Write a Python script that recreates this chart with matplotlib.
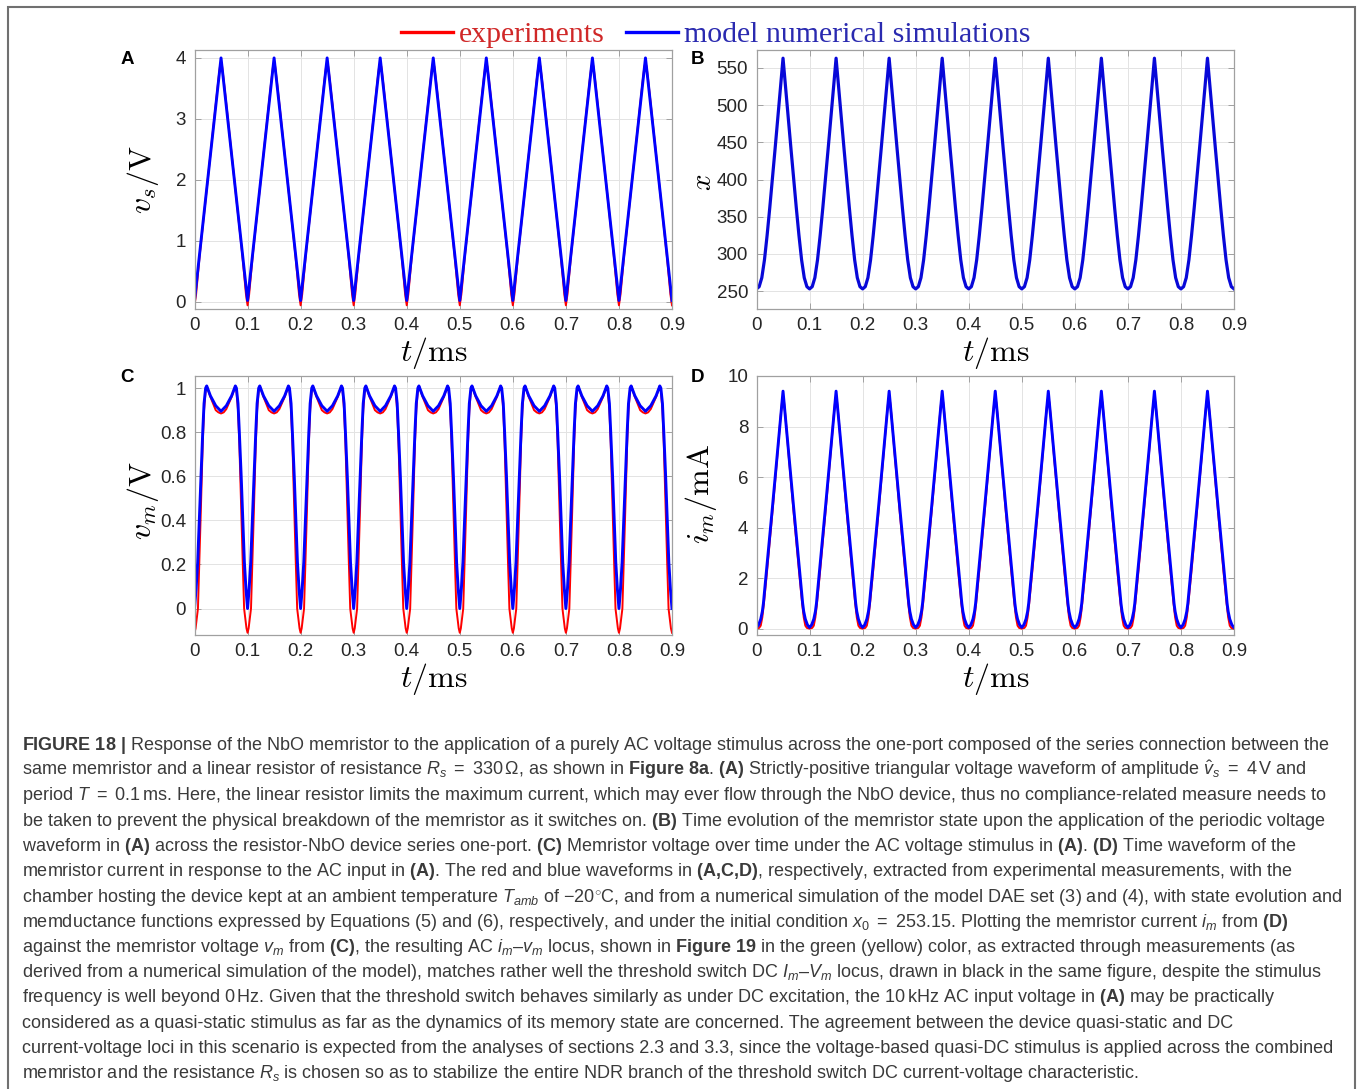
import numpy as np
import matplotlib
matplotlib.use("Agg")
import matplotlib.pyplot as plt
from matplotlib.patches import Rectangle

# ---- data: one 0.1 ms period of each waveform ----
n_periods = 9
period = 0.1

# (A) source voltage v_s / V
uA_exp = [0, .003, .006, .01, .02, .03, .04, .045, .048, .05, .052, .055, .06, .07, .08, .09, .094, .097]
vA_exp = [-0.06, 0.12, 0.4, 0.78, 1.6, 2.42, 3.24, 3.64, 3.86, 3.92, 3.86, 3.64, 3.24, 2.42, 1.6, 0.78, 0.4, 0.12]
uA_sim = [0, .05]
vA_sim = [0.02, 4.0]

# (B) memristor state x (simulation only)
uB_sim = [0, .005, .01, .015, .02, .025, .03, .035, .04, .045, .05, .055, .06, .065, .07, .075, .08, .085, .09, .095]
vB_sim = [253, 256, 268, 292, 325, 362, 401, 441, 481, 522, 563, 522, 481, 441, 401, 362, 325, 292, 268, 256]

# (C) memristor voltage v_m / V
uC_exp = [0, .002, .004, .0065, .009, .012, .0155, .018, .021, .023, .03, .04, .045, .05, .055, .06, .07,
          .077, .079, .082, .0845, .088, .091, .0935, .096, .098]
vC_exp = [-0.11, -0.09, -0.05, 0.0, 0.2, 0.45, 0.75, 0.9, 0.99, 1.01, 0.96, 0.9, 0.89, 0.885, 0.89, 0.905, 0.96,
          1.01, 0.99, 0.9, 0.75, 0.45, 0.2, 0.0, -0.05, -0.09]
uC_sim = [0, .003, .006, .009, .012, .0155, .018, .021, .023, .03, .04, .05, .06, .07, .077, .079, .082, .0845,
          .088, .091, .094, .097]
vC_sim = [0, 0.09, 0.21, 0.4, 0.6, 0.8, 0.93, 1.0, 1.01, 0.965, 0.92, 0.895, 0.92, 0.965, 1.01, 1.0, 0.93, 0.8,
          0.6, 0.4, 0.21, 0.09]

# (D) memristor current i_m / mA
uD_exp = [0, .005, .008, .011, .014, .02, .03, .04, .045, .048, .05, .052, .055, .06, .07, .08, .086, .089, .092, .095]
vD_exp = [0.0, 0.03, 0.12, 0.45, 1.0, 2.3, 4.6, 7.0, 8.3, 8.95, 9.15, 8.95, 8.3, 7.0, 4.6, 2.3, 1.0, 0.45, 0.12, 0.03]
uD_sim = [0, .004, .008, .011, .013, .02, .03, .04, .045, .05, .055, .06, .07, .08, .087, .089, .092, .096]
vD_sim = [0.05, 0.15, 0.38, 0.68, 1.0, 2.55, 4.8, 7.1, 8.25, 9.4, 8.25, 7.1, 4.8, 2.55, 1.0, 0.68, 0.38, 0.15]

x_ticks = [0, 0.1, 0.2, 0.3, 0.4, 0.5, 0.6, 0.7, 0.8, 0.9]
x_ticklabels = ["0", "0.1", "0.2", "0.3", "0.4", "0.5", "0.6", "0.7", "0.8", "0.9"]
yA_ticks = [0, 1, 2, 3, 4]
yB_ticks = [250, 300, 350, 400, 450, 500, 550]
yC_ticks = [0, 0.2, 0.4, 0.6, 0.8, 1]
yC_ticklabels = ["0", "0.2", "0.4", "0.6", "0.8", "1"]
yD_ticks = [0, 2, 4, 6, 8, 10]

legend_labels = ["experiments", "model numerical simulations"]

caption_lines = [
    r"$\mathbf{FIGURE\ 18\ |}$ Response of the NbO memristor to the application of a purely AC voltage stimulus across the one-port composed of the series connection between the",
    r"same memristor and a linear resistor of resistance $R_s\ =\ 330\,\Omega$, as shown in $\mathbf{Figure\ 8a}$. $\mathbf{(A)}$ Strictly-positive triangular voltage waveform of amplitude $\hat{v}_s\ =\ 4\,\mathrm{V}$ and",
    r"period $T\ =\ 0.1\,\mathrm{ms}$. Here, the linear resistor limits the maximum current, which may ever flow through the NbO device, thus no compliance-related measure needs to",
    r"be taken to prevent the physical breakdown of the memristor as it switches on. $\mathbf{(B)}$ Time evolution of the memristor state upon the application of the periodic voltage",
    r"waveform in $\mathbf{(A)}$ across the resistor-NbO device series one-port. $\mathbf{(C)}$ Memristor voltage over time under the AC voltage stimulus in $\mathbf{(A)}$. $\mathbf{(D)}$ Time waveform of the",
    r"memristor current in response to the AC input in $\mathbf{(A)}$. The red and blue waveforms in $\mathbf{(A{,}C{,}D)}$, respectively, extracted from experimental measurements, with the",
    r"chamber hosting the device kept at an ambient temperature $T_{amb}$ of $-20^{\circ}\mathrm{C}$, and from a numerical simulation of the model DAE set (3) and (4), with state evolution and",
    r"memductance functions expressed by Equations (5) and (6), respectively, and under the initial condition $x_0\ =\ 253.15$. Plotting the memristor current $i_m$ from $\mathbf{(D)}$",
    r"against the memristor voltage $v_m$ from $\mathbf{(C)}$, the resulting AC $i_m$–$v_m$ locus, shown in $\mathbf{Figure\ 19}$ in the green (yellow) color, as extracted through measurements (as",
    r"derived from a numerical simulation of the model), matches rather well the threshold switch DC $I_m$–$V_m$ locus, drawn in black in the same figure, despite the stimulus",
    r"frequency is well beyond $0\,\mathrm{Hz}$. Given that the threshold switch behaves similarly as under DC excitation, the $10\,\mathrm{kHz}$ AC input voltage in $\mathbf{(A)}$ may be practically",
    r"considered as a quasi-static stimulus as far as the dynamics of its memory state are concerned. The agreement between the device quasi-static and DC",
    r"current-voltage loci in this scenario is expected from the analyses of sections 2.3 and 3.3, since the voltage-based quasi-DC stimulus is applied across the combined",
    r"memristor and the resistance $R_s$ is chosen so as to stabilize the entire NDR branch of the threshold switch DC current-voltage characteristic.",
]


def repeat(u, v):
    u = np.asarray(u, dtype=float)
    v = np.asarray(v, dtype=float)
    t = np.concatenate([k * period + u for k in range(n_periods)] + [[n_periods * period]])
    y = np.concatenate([v] * n_periods + [v[:1]])
    return t, y


plt.rcParams["font.family"] = ["Liberation Sans", "DejaVu Sans"]
plt.rcParams["mathtext.fontset"] = "custom"
plt.rcParams["mathtext.rm"] = "Liberation Sans"
plt.rcParams["mathtext.it"] = "Liberation Sans:italic"
plt.rcParams["mathtext.bf"] = "Liberation Sans:bold"

W, H = 1357, 1089
fig = plt.figure(figsize=(W / 100, H / 100), dpi=100)

RED = "#ff0000"
BLUE = "#0000ff"
LW_EXP = 1.4
LW_SIM = 2.1


def px_axes(left, top, right, bottom):
    return fig.add_axes([left / W, 1 - bottom / H, (right - left) / W, (bottom - top) / H])


axA = px_axes(194.5, 50, 672, 309)
axB = px_axes(756.5, 50, 1234, 309)
axC = px_axes(194.5, 376, 672, 635)
axD = px_axes(756.5, 376, 1234, 635)

tA_e, yA_e = repeat(uA_exp, vA_exp)
tA_s, yA_s = repeat(uA_sim, vA_sim)
line_exp, = axA.plot(tA_e, yA_e, color=RED, lw=LW_EXP)
line_sim, = axA.plot(tA_s, yA_s, color=BLUE, lw=LW_SIM)

tB, yB = repeat(uB_sim, vB_sim)
axB.plot(tB, yB, color="#0808d8", lw=2.3)

tC_e, yC_e = repeat(uC_exp, vC_exp)
tC_s, yC_s = repeat(uC_sim, vC_sim)
axC.plot(tC_e, yC_e, color=RED, lw=LW_EXP)
axC.plot(tC_s, yC_s, color=BLUE, lw=LW_SIM)

tD_e, yD_e = repeat(uD_exp, vD_exp)
tD_s, yD_s = repeat(uD_sim, vD_sim)
axD.plot(tD_e, yD_e, color=RED, lw=LW_EXP)
axD.plot(tD_s, yD_s, color=BLUE, lw=LW_SIM)

setup = [
    (axA, (-0.12, 4.13), yA_ticks, [str(v) for v in yA_ticks], r"$v_s/\mathrm{V}$", 23, -0.108, 0.5),
    (axB, (226, 574), yB_ticks, [str(v) for v in yB_ticks], r"$x$", 21, -0.112, 0.49),
    (axC, (-0.12, 1.055), yC_ticks, yC_ticklabels, r"$v_m/\mathrm{V}$", 23, -0.108, 0.52),
    (axD, (-0.25, 10), yD_ticks, [str(v) for v in yD_ticks], r"$i_m/\mathrm{mA}$", 23, -0.116, 0.545),
]
for ax, ylim, yt, ytl, ylab, ysz, lx, ly in setup:
    ax.set_xlim(0, 0.9)
    ax.set_ylim(*ylim)
    ax.set_xticks(x_ticks)
    ax.set_xticklabels(x_ticklabels)
    ax.set_yticks(yt)
    ax.set_yticklabels(ytl)
    ax.grid(True, color="#e3e3e3", lw=0.7)
    ax.set_axisbelow(True)
    for s in ax.spines.values():
        s.set_color("#a0a0a0")
        s.set_linewidth(0.9)
    ax.tick_params(direction="in", top=True, right=True, length=4, width=0.7,
                   color="#a0a0a0", labelsize=13.5, labelcolor="#262626", pad=6)
    ax.set_xlabel(r"$t/\mathrm{ms}$", fontsize=23, math_fontfamily="cm", va="center")
    ax.xaxis.set_label_coords(0.5, -0.168)
    ax.set_ylabel(ylab, fontsize=ysz, math_fontfamily="cm", va="center")
    ax.yaxis.set_label_coords(lx, ly)

for letter, x, y in [("A", 127, 60), ("B", 698, 60), ("C", 127, 378), ("D", 698, 378)]:
    fig.text(x / W, 1 - y / H, letter, ha="center", va="center", fontsize=13.5, fontweight="bold")

leg = fig.legend([line_exp, line_sim], legend_labels, loc="center", bbox_to_anchor=(716 / W, 1 - 35 / H),
                 ncol=2, frameon=False, prop={"family": "Liberation Serif", "size": 21.5},
                 handlelength=1.75, handletextpad=0.2, columnspacing=0.7, borderpad=0)
for txt, c in zip(leg.get_texts(), ["#d02828", "#2a2ab0"]):
    txt.set_color(c)
for h in leg.legend_handles:
    h.set_linewidth(2.4)

for k, line in enumerate(caption_lines):
    fig.text(22 / W, 1 - (750 + 25.25 * k) / H, line, ha="left", va="baseline",
             fontsize=12.95, color="#3a3a3a")

fig.patches.append(Rectangle((7.5 / W, -0.05), (1355 - 7.5) / W, 1.05 - 6.5 / H,
                             transform=fig.transFigure, fill=False, edgecolor="#707070",
                             lw=1.5, clip_on=False))

fig.savefig("out.png", dpi=100)
